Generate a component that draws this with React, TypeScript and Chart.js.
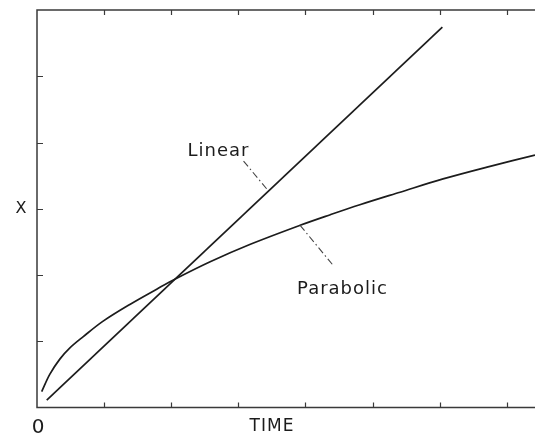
import React, { useEffect, useRef } from "react";
import { Chart, registerables } from "chart.js";

Chart.register(...registerables);

// Data (units: tick intervals)
const linearX = [0.145, 6.04];
const linearY = [0.11, 5.74];

const parabolicX = [0.07, 0.19, 0.34, 0.49, 0.69, 0.98, 1.39, 1.79, 2.06, 2.58, 3.17, 3.92, 4.37, 4.81, 5.41, 6.05, 6.75, 7.42];
const parabolicY = [0.24, 0.5, 0.73, 0.9, 1.07, 1.3, 1.56, 1.79, 1.94, 2.2, 2.46, 2.75, 2.91, 3.06, 3.25, 3.45, 3.64, 3.81];

const xTickValues = [1, 2, 3, 4, 5, 6, 7];
const yTickValues = [1, 2, 3, 4, 5];

const seriesNames = ["Linear", "Parabolic"];
const xAxisTitle = "TIME";
const yAxisTitle = "X";
const originLabel = "0";

const INK = "#1c1c1c";
const FONT = '"DejaVu Sans", sans-serif';

const framePlugin = {
  id: "frame",
  afterDraw(chart: any) {
    const { ctx, chartArea } = chart;
    const xs = chart.scales.x;
    const ys = chart.scales.y;
    const { left, top, bottom } = chartArea;
    const right = chart.width;
    ctx.save();
    ctx.strokeStyle = "#3a3a3a";
    ctx.lineWidth = 1.5;
    ctx.beginPath();
    ctx.moveTo(right, top);
    ctx.lineTo(left, top);
    ctx.lineTo(left, bottom);
    ctx.lineTo(right, bottom);
    ctx.stroke();

    ctx.lineWidth = 1.2;
    ctx.beginPath();
    xTickValues.forEach((v) => {
      const px = Math.round(xs.getPixelForValue(v)) + 0.5;
      ctx.moveTo(px, bottom);
      ctx.lineTo(px, bottom - 5);
      ctx.moveTo(px, top);
      ctx.lineTo(px, top + 5);
    });
    yTickValues.forEach((v) => {
      const py = Math.round(ys.getPixelForValue(v)) + 0.5;
      ctx.moveTo(left, py);
      ctx.lineTo(left + 6, py);
    });
    ctx.stroke();

    // Leader lines (dash-dot)
    ctx.strokeStyle = "#444";
    ctx.lineWidth = 1.1;
    ctx.setLineDash([7, 3, 1.5, 3]);
    const lxv = 3.45;
    const lx = xs.getPixelForValue(lxv);
    const ly = ys.getPixelForValue(
      linearY[0] + ((lxv - linearX[0]) * (linearY[1] - linearY[0])) / (linearX[1] - linearX[0])
    );
    ctx.beginPath();
    ctx.moveTo(lx - 25, ly - 30);
    ctx.lineTo(lx, ly);
    ctx.stroke();
    const bx = xs.getPixelForValue(parabolicX[11]);
    const by = ys.getPixelForValue(parabolicY[11]);
    ctx.beginPath();
    ctx.moveTo(bx, by);
    ctx.lineTo(bx + 33, by + 40);
    ctx.stroke();
    ctx.setLineDash([]);

    // Texts
    ctx.fillStyle = INK;
    ctx.textBaseline = "middle";
    ctx.textAlign = "left";
    (ctx as any).letterSpacing = "1px";
    ctx.font = `18px ${FONT}`;
    ctx.fillText(seriesNames[0], lx - 81, ly - 40);
    ctx.fillText(seriesNames[1], bx - 3, by + 64);

    ctx.textAlign = "center";
    ctx.font = `17px ${FONT}`;
    ctx.fillText(xAxisTitle, 272, bottom + 19);
    (ctx as any).letterSpacing = "0px";
    ctx.font = `20px ${FONT}`;
    ctx.fillText(originLabel, left + 1, bottom + 20);
    ctx.font = `16px ${FONT}`;
    ctx.fillText(yAxisTitle, 21, ys.getPixelForValue(3));
    ctx.restore();
  },
};

export default function App() {
  const ref = useRef<HTMLCanvasElement | null>(null);
  useEffect(() => {
    if (!ref.current) return;
    const chart = new Chart(ref.current, {
      type: "scatter",
      data: {
        datasets: [
          {
            label: seriesNames[0],
            data: linearX.map((x, i) => ({ x, y: linearY[i] })),
            showLine: true,
            borderColor: INK,
            borderWidth: 1.7,
            pointRadius: 0,
          },
          {
            label: seriesNames[1],
            data: parabolicX.map((x, i) => ({ x, y: parabolicY[i] })),
            showLine: true,
            borderColor: INK,
            borderWidth: 1.7,
            pointRadius: 0,
            tension: 0.35,
          },
        ],
      },
      options: {
        responsive: false,
        animation: false,
        layout: { padding: { left: 37, top: 10, right: 0, bottom: 30.5 } },
        plugins: { legend: { display: false }, tooltip: { enabled: false } },
        scales: {
          x: { type: "linear", min: 0, max: 7.42, display: false },
          y: { type: "linear", min: 0, max: 6, display: false },
        },
      },
      plugins: [framePlugin],
    });
    return () => chart.destroy();
  }, []);
  return (
    <div style={{ position: "absolute", left: 0, top: 0, width: 535, height: 438, background: "#fff" }}>
      <canvas ref={ref} width={535} height={438} style={{ display: "block" }} />
    </div>
  );
}
